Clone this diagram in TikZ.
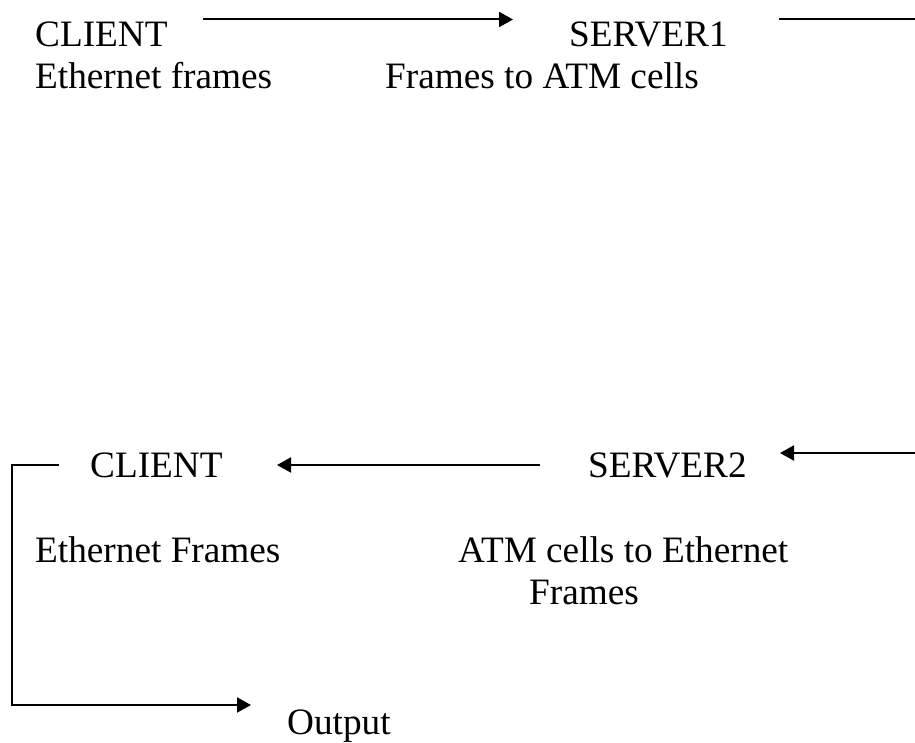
\documentclass[tikz,border=0pt]{standalone}
\usepackage{fontspec}
\setmainfont{Liberation Serif}
\usetikzlibrary{arrows.meta}
\begin{document}
\begin{tikzpicture}[x=1bp,y=-1bp,
  lbl/.style={anchor=base west,inner sep=0pt,font=\fontsize{37.4}{44}\selectfont},
  wire/.style={line width=2bp,draw=black},
  flow/.style={wire,-{Triangle[length=14bp,width=15bp]}}]
\useasboundingbox (0,0) rectangle (915,743);

% sending side
\node[lbl] (cl1) at (35,47) {CLIENT};
\node[lbl] (sv1) at (569,47) {SERVER1};
\node[lbl] (ef1) at (35,89) {Ethernet frames};
\node[lbl] (fa)  at (385,89) {Frames to ATM cells};

% receiving side
\node[lbl] (cl2) at (90,477) {CLIENT};
\node[lbl] (sv2) at (588,477) {SERVER2};
\node[lbl] (ef2) at (35,562) {Ethernet Frames};
\node[lbl] (ae)  at (458,562) {ATM cells to Ethernet};
\node[lbl] (ae2) at (529,604) {Frames};
\node[lbl] (out) at (287,734) {Output};

% connector ends
\coordinate (a1s) at (203,19.5);
\coordinate (a1e) at (513,19.5);
\coordinate (r1s) at (779,19.5);
\coordinate (r1e) at (915,19.5);
\coordinate (r2s) at (915,453);
\coordinate (r2e) at (780,453);
\coordinate (a2s) at (540,465);
\coordinate (a2e) at (277,465);
\coordinate (k1) at (59,465);
\coordinate (k2) at (12,465);
\coordinate (k3) at (12,705);
\coordinate (k4) at (251,705);

\draw[flow] (a1s) -- (a1e);
\draw[wire] (r1s) -- (r1e);
\draw[flow] (r2s) -- (r2e);
\draw[flow] (a2s) -- (a2e);
\draw[flow] (k1) -- (k2) -- (k3) -- (k4);
\end{tikzpicture}
\end{document}
